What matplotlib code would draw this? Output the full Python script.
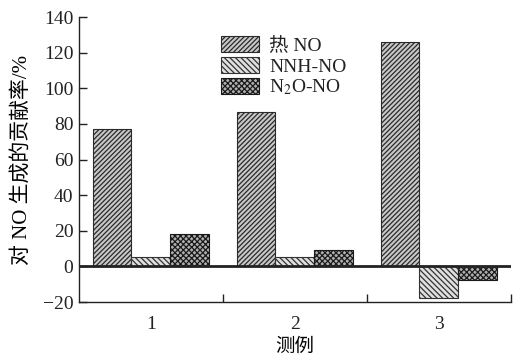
import matplotlib
matplotlib.use("Agg")
import matplotlib.pyplot as plt
import numpy as np

categories = ["1", "2", "3"]
series_names = ["热 NO", "NNH-NO", "N$_2$O-NO"]
thermal_no = [77.0, 86.5, 126.0]
nnh_no = [5.5, 5.0, -17.5]
n2o_no = [18.0, 9.0, -7.5]
yticks = [-20, 0, 20, 40, 60, 80, 100, 120, 140]

plt.rcParams['font.family'] = ['Liberation Serif', 'Noto Sans CJK SC']
plt.rcParams['hatch.linewidth'] = 0.9
plt.rcParams['mathtext.fontset'] = 'stix'
plt.rcParams['text.color'] = '#222222'
plt.rcParams['xtick.color'] = '#222222'
plt.rcParams['ytick.color'] = '#222222'

fig = plt.figure(figsize=(5.16, 3.63), dpi=100)
ax = fig.add_axes([0.153, 0.168, 0.837, 0.785])

x = np.arange(len(categories)) + 0.5
w = 0.27
styles = [
    dict(facecolor='#c8c8c8', edgecolor='#2a2a2a', hatch='///////'),
    dict(facecolor='#e0e0e0', edgecolor='#333333', hatch='\\\\\\\\\\\\'),
    dict(facecolor='#b0b0b0', edgecolor='#1a1a1a', hatch='xxxxxx'),
]
for i, (vals, name) in enumerate(zip([thermal_no, nnh_no, n2o_no], series_names)):
    ax.bar(x + (i - 1) * w, vals, width=w, label=name, linewidth=0.8, **styles[i])

ax.axhline(0, color='#222222', lw=2)
ax.set_xlim(0, 3)
ax.set_ylim(-20, 140)
ax.set_yticks(yticks)
ax.set_xticks(x)
ax.set_xticklabels(categories)
ax.set_xticks([1, 2, 3], minor=True)
ax.tick_params(axis='x', which='major', length=0, pad=10, labelsize=14)
ax.tick_params(axis='x', which='minor', direction='in', length=6, width=1)
ax.tick_params(axis='y', direction='in', length=6, width=1, labelsize=14, pad=4)
for s in ['top', 'right']:
    ax.spines[s].set_visible(False)
for s in ['left', 'bottom']:
    ax.spines[s].set_linewidth(1)
    ax.spines[s].set_color('#222222')

ax.set_xlabel("测例", fontsize=14, labelpad=4)
ax.set_ylabel("对 NO 生成的贡献率/%", fontsize=15, labelpad=8)

ax.legend(loc='upper left', bbox_to_anchor=(0.33, 0.935), frameon=False, fontsize=14,
          handlelength=1.95, handleheight=0.95, labelspacing=0.1, borderpad=0,
          handletextpad=0.5, borderaxespad=0)

fig.savefig("out.png", dpi=100)
